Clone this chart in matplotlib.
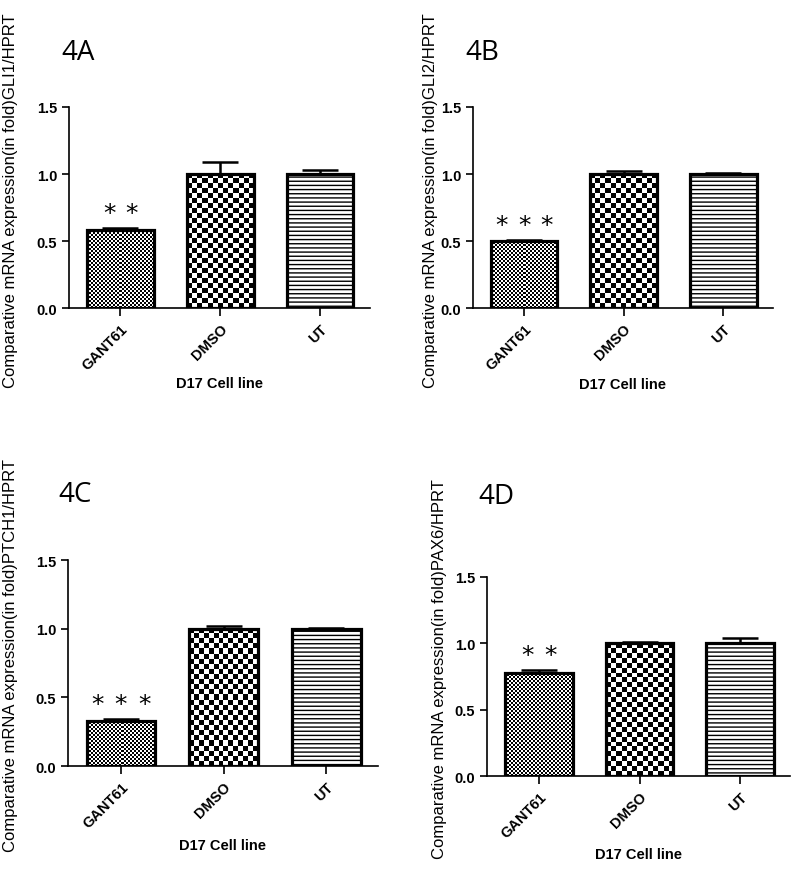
import numpy as np
import matplotlib
matplotlib.use("Agg")
from matplotlib import pyplot as plt

plt.rcParams['font.family'] = ['Liberation Sans', 'DejaVu Sans']

groups = ['GANT61', 'DMSO', 'UT']
panel_tags = ['4A', '4B', '4C', '4D']
genes = ['GLI1', 'GLI2', 'PTCH1', 'PAX6']
means = {
    '4A': [0.58, 1.00, 1.00],
    '4B': [0.50, 1.00, 1.00],
    '4C': [0.33, 1.00, 1.00],
    '4D': [0.78, 1.00, 1.00],
}
sems = {
    '4A': [0.02, 0.09, 0.03],
    '4B': [0.01, 0.02, 0.01],
    '4C': [0.01, 0.02, 0.005],
    '4D': [0.02, 0.01, 0.04],
}
n_stars = {'4A': 2, '4B': 3, '4C': 3, '4D': 2}

# axes boxes in figure fraction [left, bottom, width, height]
boxes = {
    '4A': [0.0871, 0.648, 0.380, 0.229],
    '4B': [0.597, 0.648, 0.379, 0.229],
    '4C': [0.0859, 0.1264, 0.391, 0.2346],
    '4D': [0.615, 0.115, 0.383, 0.2267],
}
ylabel_x = {'4A': -0.170, '4B': -0.117, '4C': -0.160, '4D': -0.132}
xlabel_pad = {'4A': 3, '4B': 4, '4C': 6, '4D': 5}
tag_pos = {'4A': (0.077, 0.940), '4B': (0.588, 0.940), '4C': (0.074, 0.436), '4D': (0.604, 0.434)}

W, H = 792, 878
fig = plt.figure(figsize=(W / 100, H / 100), dpi=100)


def checker_fill(ax, bar, cell_px, px_x, px_y):
    x0, y0 = bar.get_x(), bar.get_y()
    w, h = bar.get_width(), bar.get_height()
    nx = max(1, int(round(w * px_x / cell_px)))
    ny = max(1, int(round(h * px_y / cell_px)))
    board = (np.add.outer(np.arange(ny), np.arange(nx)) % 2).astype(float)
    im = ax.imshow(board, cmap='gray', vmin=0, vmax=1, interpolation='nearest',
                   extent=(x0, x0 + w, y0, y0 + h), aspect='auto', zorder=1)
    im.set_clip_path(bar)


for tag, gene in zip(panel_tags, genes):
    ax = fig.add_axes(boxes[tag])
    x = np.arange(len(groups))
    m = means[tag]
    e = sems[tag]
    bars = ax.bar(x, m, width=0.67, color='white', edgecolor='black',
                  linewidth=2.3, zorder=2)
    bars[0].set_facecolor('none')
    bars[1].set_facecolor('none')
    bars[2].set_hatch('----')
    ax.errorbar(x, m, yerr=[[0] * 3, e], fmt='none', ecolor='black',
                elinewidth=1.8, capsize=13, capthick=1.8, zorder=3)
    ax.set_xlim(-0.515, 2.5)
    ax.set_ylim(0, 1.5)

    b = boxes[tag]
    px_x = b[2] * W / 3.015
    px_y = b[3] * H / 1.5
    checker_fill(ax, bars[0], 2.0, px_x, px_y)
    checker_fill(ax, bars[1], 5.0, px_x, px_y)

    # significance stars above the GANT61 bar
    k = n_stars[tag]
    offs = (np.arange(k) - (k - 1) / 2) * 0.225
    for o in offs:
        ax.text(o, m[0] + e[0] + 0.11, '*', ha='center', va='center',
                fontsize=18, family='DejaVu Sans')

    for s in ['top', 'right']:
        ax.spines[s].set_visible(False)
    for s in ['left', 'bottom']:
        ax.spines[s].set_linewidth(1.2)
    ax.set_yticks([0, 0.5, 1.0, 1.5])
    ax.set_yticklabels(['0.0', '0.5', '1.0', '1.5'], fontsize=10.5, fontweight='bold')
    ax.set_xticks(x)
    ax.set_xticklabels(groups, rotation=45, ha='right', rotation_mode='anchor',
                       fontsize=10.5, fontweight='bold')
    ax.tick_params(width=1.2, length=5)
    ax.tick_params(axis='x', length=6)
    ax.set_xlabel('D17 Cell line', fontsize=10.5, fontweight='bold',
                  labelpad=xlabel_pad[tag])
    ax.set_ylabel('Comparative mRNA expression(in fold)%s/HPRT' % gene, fontsize=12)
    ax.yaxis.set_label_coords(ylabel_x[tag], 0.54)

    fig.text(tag_pos[tag][0], tag_pos[tag][1], tag, fontsize=20,
             family='Open Sans', va='center', ha='left')

plt.savefig('out.png', dpi=100)
